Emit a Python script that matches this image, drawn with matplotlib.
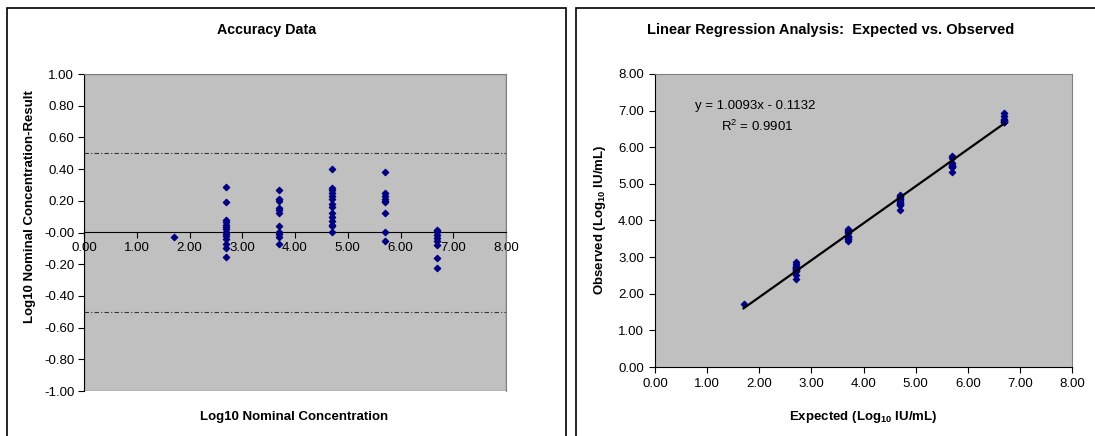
import matplotlib.pyplot as plt
from matplotlib.patches import Rectangle
import numpy as np

plt.rcParams["font.family"] = ["Liberation Sans", "DejaVu Sans"]
plt.rcParams["font.size"] = 9
plt.rcParams["mathtext.fontset"] = "custom"
plt.rcParams["mathtext.rm"] = "Liberation Sans"
plt.rcParams["mathtext.bf"] = "Liberation Sans:bold"

# log10 nominal concentration levels
levels = [1.699, 2.699, 3.699, 4.699, 5.699, 6.699]

# nominal - result differences, one list per level
diff_1 = [-0.03]
diff_2 = [0.29, 0.19, 0.08, 0.065, 0.05, 0.035, 0.02, 0.0, -0.01, -0.02,
          -0.04, -0.07, -0.10, -0.155]
diff_3 = [0.27, 0.21, 0.20, 0.155, 0.14, 0.125, 0.04, 0.0, -0.01, -0.03, -0.07]
diff_4 = [0.40, 0.28, 0.27, 0.25, 0.23, 0.21, 0.18, 0.16, 0.12, 0.10, 0.07,
          0.05, 0.04, 0.0]
diff_5 = [0.38, 0.25, 0.23, 0.21, 0.20, 0.19, 0.12, 0.0, -0.055]
diff_6 = [0.015, 0.01, 0.0, -0.015, -0.035, -0.055, -0.08, -0.16, -0.225]
diffs = [diff_1, diff_2, diff_3, diff_4, diff_5, diff_6]

slope, intercept, r2 = 1.0093, -0.1132, 0.9901
limit = 0.5

nominal = np.concatenate([[lv] * len(d) for lv, d in zip(levels, diffs)])
delta = np.concatenate(diffs)
observed = nominal - delta

navy = "#000080"
grey = "#C0C0C0"
ticks = np.arange(0, 9, 1.0)

fig = plt.figure(figsize=(10.95, 4.36), dpi=100)
W, H = 1095., 436.


def fx(px):
    return px / W


def fy(py):
    return 1 - py / H


# chart area borders
for x0, x1 in [(7, 566), (576, 1100)]:
    fig.patches.append(Rectangle((fx(x0), -0.1), fx(x1) - fx(x0), fy(8) + 0.1,
                                 transform=fig.transFigure, fill=False,
                                 edgecolor="black", lw=1.2))

# ---- left: accuracy data ----
ax1 = fig.add_axes([fx(84), fy(391), fx(506) - fx(84), fy(74) - fy(391)])
ax1.set_facecolor(grey)
ax1.scatter(nominal, delta, marker="D", s=10, color=navy, zorder=3)
for y in (limit, -limit):
    ax1.axhline(y, color="#333333", lw=0.8, dashes=(4, 2, 1, 2))
ax1.set_xlim(0, 8)
ax1.set_ylim(-1, 1)
ax1.set_xticks(ticks)
ax1.set_xticklabels(["%.2f" % t for t in ticks])
ax1.set_yticks(np.arange(-1, 1.01, 0.2))
ax1.set_yticklabels(["%.2f" % t for t in np.arange(-1, 1.01, 0.2)])
ax1.spines["bottom"].set_position(("data", 0))
for s in ("top", "right"):
    ax1.spines[s].set_color("#808080")
ax1.add_patch(Rectangle((0, 0), 1, 1, transform=ax1.transAxes, fill=False,
                        edgecolor="#808080", lw=1, zorder=1))
ax1.tick_params(axis="x", direction="out", length=4, pad=3)
ax1.tick_params(axis="y", direction="out", length=4, pad=3)
for lab in ax1.get_yticklabels() + ax1.get_xticklabels():
    lab.set_fontsize(9.5)

fig.text(fx(267), fy(30), "Accuracy Data", ha="center", va="center",
         fontweight="bold", fontsize=10.3)
fig.text(fx(294), fy(417), "Log10 Nominal Concentration", ha="center",
         va="center", fontweight="bold", fontsize=9.5)
fig.text(fx(30), fy(207), "Log10 Nominal Concentration-Result", ha="center",
         va="center", rotation=90, fontweight="bold", fontsize=9.5)

# ---- right: linear regression ----
ax2 = fig.add_axes([fx(655), fy(367), fx(1072) - fx(655), fy(74) - fy(367)])
ax2.set_facecolor(grey)
ax2.scatter(nominal, observed, marker="D", s=10, color=navy, zorder=3)
xl = np.array([levels[0], levels[-1]])
ax2.plot(xl, slope * xl + intercept, color="black", lw=1.6, zorder=4)
ax2.set_xlim(0, 8)
ax2.set_ylim(0, 8)
ax2.set_xticks(ticks)
ax2.set_xticklabels(["%.2f" % t for t in ticks])
ax2.set_yticks(ticks)
ax2.set_yticklabels(["%.2f" % t for t in ticks])
for s in ("top", "right"):
    ax2.spines[s].set_color("#808080")
ax2.tick_params(direction="out", length=4, pad=4)
for lab in ax2.get_yticklabels() + ax2.get_xticklabels():
    lab.set_fontsize(9.5)
ax2.text(1.92, 7.13, "y = %.4fx - %.4f" % (slope, -intercept), ha="center",
         va="center", fontsize=9.5)
ax2.text(1.95, 6.56, r"R$^2$ = %.4f" % r2, ha="center", va="center",
         fontsize=9.5)

fig.text(fx(831), fy(30), "Linear Regression Analysis:  Expected vs. Observed",
         ha="center", va="center", fontweight="bold", fontsize=10.5)
fig.text(fx(863), fy(417), r"Expected (Log$_{\mathbf{10}}$ IU/mL)",
         ha="center", va="center", fontweight="bold", fontsize=9.5)
fig.text(fx(600), fy(220), r"Observed (Log$_{\mathbf{10}}$ IU/mL)",
         ha="center", va="center", rotation=90, fontweight="bold",
         fontsize=9.5)

fig.savefig("out.png", dpi=100)
